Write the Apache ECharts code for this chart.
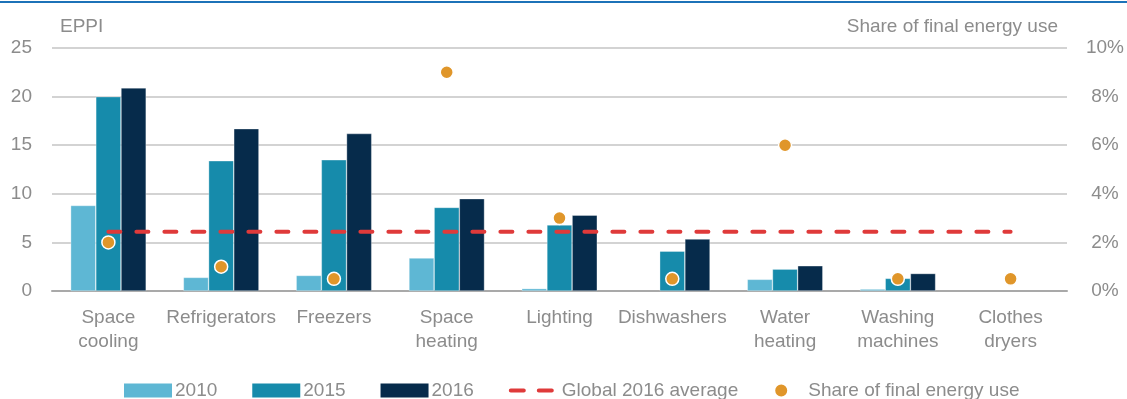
<!DOCTYPE html>
<html>
<head>
<meta charset="utf-8">
<script src="https://cdn.jsdelivr.net/npm/echarts@6/dist/echarts.min.js"></script>
<style>
  html, body { margin: 0; padding: 0; background: #fff; }
  #chart { width: 1127px; height: 399px; }
</style>
</head>
<body>
<div id="chart"></div>
<script>
// End-uses on the category axis
const categories = ['Space\ncooling', 'Refrigerators', 'Freezers', 'Space\nheating', 'Lighting',
  'Dishwashers', 'Water\nheating', 'Washing\nmachines', 'Clothes\ndryers'];

// EPPI by year (null where no value is shown)
const eppi2010 = [8.8, 1.4, 1.6, 3.4, 0.25, null, 1.2, 0.2, null];
const eppi2015 = [20.0, 13.4, 13.5, 8.6, 6.8, 4.1, 2.25, 1.3, null];
const eppi2016 = [20.9, 16.7, 16.2, 9.5, 7.8, 5.35, 2.6, 1.8, null];

// Global 2016 average EPPI
const globalAverage2016 = 6.1;

// Share of final energy use, in percent
const shareOfFinalEnergy = [2.0, 1.0, 0.5, 9.0, 3.0, 0.5, 6.0, 0.5, 0.5];

// Axis ticks
const eppiTicks = { min: 0, max: 25, interval: 5 };
const shareTicks = { min: 0, max: 10, interval: 2 };

const textGrey = '#8c8c8c';
const fontFamily = '"Liberation Sans", Arial, sans-serif';

const chart = echarts.init(document.getElementById('chart'), null, { renderer: 'canvas' });

const barStyle = (color) => ({
  color: color,
  borderColor: 'rgba(255,255,255,0.55)',
  borderWidth: 0.6
});

chart.setOption({
  animation: false,
  textStyle: { fontFamily: fontFamily },
  graphic: [{
    type: 'rect',
    left: 0,
    top: 1,
    shape: { width: 1127, height: 2 },
    style: { fill: '#1c72b8' },
    silent: true
  }],
  grid: { left: 52, right: 60, top: 48, bottom: 108 },
  legend: {
    left: 119,
    top: 376,
    itemWidth: 48,
    itemHeight: 14,
    itemGap: 35,
    textStyle: { color: textGrey, fontSize: 19, fontFamily: fontFamily, padding: [0, 0, 0, -2] },
    data: [
      { name: '2010', icon: 'rect', itemStyle: { borderWidth: 0 } },
      { name: '2015', icon: 'rect', itemStyle: { borderWidth: 0 } },
      { name: '2016', icon: 'rect', itemStyle: { borderWidth: 0 } },
      {
        name: 'Global 2016 average',
        itemStyle: { opacity: 0 },
        lineStyle: { width: 4, type: [13, 15], cap: 'round' }
      },
      { name: 'Share of final energy use', icon: 'circle' }
    ]
  },
  xAxis: {
    type: 'category',
    data: categories,
    axisTick: { show: false },
    axisLine: { lineStyle: { color: '#a9a9a9', width: 2 } },
    axisLabel: {
      color: textGrey,
      fontSize: 19,
      lineHeight: 24,
      margin: 15,
      interval: 0,
      fontFamily: fontFamily
    }
  },
  yAxis: [{
    type: 'value',
    min: eppiTicks.min,
    max: eppiTicks.max,
    interval: eppiTicks.interval,
    name: 'EPPI',
    nameLocation: 'end',
    nameGap: 21,
    nameTextStyle: {
      color: textGrey, fontSize: 19, align: 'left', verticalAlign: 'middle',
      padding: [0, 0, 0, 8], fontFamily: fontFamily
    },
    axisLine: { show: false },
    axisTick: { show: false },
    axisLabel: { color: textGrey, fontSize: 19, margin: 20, fontFamily: fontFamily },
    splitLine: { lineStyle: { color: '#c4c4c4', width: 1.5 } }
  }, {
    type: 'value',
    min: shareTicks.min,
    max: shareTicks.max,
    interval: shareTicks.interval,
    name: 'Share of final energy use',
    nameLocation: 'end',
    nameGap: 21,
    nameTextStyle: {
      color: textGrey, fontSize: 19, align: 'right', verticalAlign: 'middle',
      padding: [0, 9, 0, 0], fontFamily: fontFamily
    },
    axisLine: { show: false },
    axisTick: { show: false },
    splitLine: { show: false },
    axisLabel: {
      color: textGrey,
      fontSize: 19,
      margin: 38,
      align: 'center',
      formatter: '{value}%',
      fontFamily: fontFamily
    }
  }],
  series: [{
    name: '2010',
    type: 'bar',
    data: eppi2010,
    barGap: '0%',
    barCategoryGap: '33%',
    itemStyle: barStyle('#5eb7d4')
  }, {
    name: '2015',
    type: 'bar',
    data: eppi2015,
    barGap: '0%',
    barCategoryGap: '33%',
    itemStyle: barStyle('#168bab')
  }, {
    name: '2016',
    type: 'bar',
    data: eppi2016,
    barGap: '0%',
    barCategoryGap: '33%',
    itemStyle: barStyle('#062b4b')
  }, {
    name: 'Global 2016 average',
    type: 'line',
    data: categories.map(() => globalAverage2016),
    symbol: 'none',
    z: 5,
    lineStyle: { color: '#df3a3a', width: 4, type: [12, 16], cap: 'round' },
    itemStyle: { color: '#df3a3a' }
  }, {
    name: 'Share of final energy use',
    type: 'scatter',
    yAxisIndex: 1,
    data: shareOfFinalEnergy,
    symbol: 'circle',
    symbolSize: 13,
    z: 6,
    itemStyle: { color: '#e0962a', borderColor: '#ffffff', borderWidth: 1.5, opacity: 1 }
  }]
});
</script>
</body>
</html>
